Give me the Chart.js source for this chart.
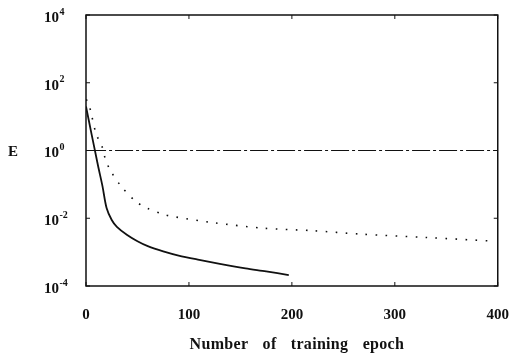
<!DOCTYPE html>
<html>
<head>
<meta charset="utf-8">
<script src="https://cdn.jsdelivr.net/npm/chart.js@4"></script>
<style>
html, body { margin: 0; background: #fff; }
#wrap { width: 521px; height: 358px; }
</style>
</head>
<body>
<div id="wrap"><canvas id="myChart"></canvas></div>
<script>
// solid curve
var solidEpoch = [0, 5, 10, 12, 16, 20, 25, 30, 40, 50, 60, 75, 90, 110, 130, 155, 175, 197];
var solidE = [20, 3.5, 0.63, 0.32, 0.089, 0.02, 0.0089, 0.0056, 0.0032, 0.0021, 0.0015, 0.00105, 0.00079, 0.00059, 0.00045, 0.00033, 0.00027, 0.00021];

// dotted curve
var dotEpoch = [0, 2, 5, 10, 15, 18, 23, 34, 48, 59, 77, 86, 124, 172, 220, 267, 331, 397];
var dotE = [32, 28, 12.6, 2.95, 1.5, 0.68, 0.28, 0.089, 0.032, 0.020, 0.0126, 0.011, 0.0074, 0.0051, 0.0043, 0.0034, 0.0027, 0.0021];

// dash-dot curve (flat)
var flatEpoch = [2, 400];
var flatE = [1, 1];

var xTicks = [0, 100, 200, 300, 400];
var yExp = [-4, -2, 0, 2, 4];

function pts(xs, ys){
    return xs.map((v, i) => ({x: v, y: ys[i]}));
}

var serif = '"Liberation Serif", "DejaVu Serif", serif';

var frame = {
    id: 'frame',
    afterDraw(chart){
        var ctx = chart.ctx;
        var a = chart.chartArea;
        var xs = chart.scales.x, ys = chart.scales.y;
        ctx.save();
        ctx.strokeStyle = '#111';
        ctx.lineWidth = 1.5;
        ctx.strokeRect(a.left, a.top, a.right - a.left, a.bottom - a.top);
        // inward ticks
        ctx.lineWidth = 1;
        ctx.beginPath();
        xTicks.forEach(v => {
            var px = xs.getPixelForValue(v);
            ctx.moveTo(px, a.bottom); ctx.lineTo(px, a.bottom - 4);
            ctx.moveTo(px, a.top); ctx.lineTo(px, a.top + 4);
        });
        yExp.forEach(e => {
            var py = ys.getPixelForValue(Math.pow(10, e));
            ctx.moveTo(a.left, py); ctx.lineTo(a.left + 4, py);
            ctx.moveTo(a.right, py); ctx.lineTo(a.right - 4, py);
        });
        ctx.stroke();

        // y labels 10^n
        ctx.fillStyle = '#111';
        ctx.textBaseline = 'middle';
        yExp.forEach(e => {
            var py = ys.getPixelForValue(Math.pow(10, e)) + 3;
            ctx.font = 'bold 15px ' + serif;
            ctx.textAlign = 'right';
            ctx.fillText('10', 59, py);
            ctx.font = 'bold 10px ' + serif;
            ctx.textAlign = 'left';
            ctx.fillText(e < 0 ? '-' + (-e) : String(e), 59.5, py - 6);
        });

        // axis titles
        ctx.font = 'bold 15px ' + serif;
        ctx.textAlign = 'center';
        ctx.fillText('E', 13, ys.getPixelForValue(1) + 2);
        ctx.font = 'bold 16px ' + serif;
        ctx.letterSpacing = '0.3px';
        ctx.wordSpacing = '10px';
        ctx.fillText('Number of training epoch', (a.left + a.right) / 2 + 5, 345);
        ctx.restore();
    }
};

new Chart('myChart', {
    type: 'line',
    data: {
        datasets: [{
            data: pts(solidEpoch, solidE),
            borderColor: '#111',
            borderWidth: 1.8,
            pointRadius: 0,
            tension: 0.3
        }, {
            data: pts(dotEpoch, dotE),
            borderColor: '#111',
            borderWidth: 1.6,
            borderDash: [1.6, 8.4],
            pointRadius: 0,
            tension: 0.3
        }, {
            data: pts(flatEpoch, flatE),
            borderColor: '#111',
            borderWidth: 1.2,
            borderDash: [18, 3, 3, 3],
            pointRadius: 0
        }]
    },
    options: {
        responsive: true,
        maintainAspectRatio: false,
        animation: false,
        layout: { padding: { top: 15, right: 14, left: 0, bottom: 0 } },
        plugins: { legend: { display: false }, tooltip: { enabled: false } },
        scales: {
            x: {
                type: 'linear',
                min: 0,
                max: 400,
                grid: { display: false },
                border: { display: false },
                afterBuildTicks: s => { s.ticks = xTicks.map(v => ({value: v})); },
                afterFit: s => { s.height = 72; },
                ticks: {
                    color: '#111',
                    padding: 12,
                    maxRotation: 0,
                    font: { family: serif, size: 15, weight: 'bold' }
                }
            },
            y: {
                type: 'logarithmic',
                min: 1e-4,
                max: 1e4,
                grid: { display: false },
                border: { display: false },
                afterBuildTicks: s => { s.ticks = yExp.map(e => ({value: Math.pow(10, e)})); },
                afterFit: s => { s.width = 86; },
                ticks: { display: false }
            }
        }
    },
    plugins: [frame]
});
</script>
</body>
</html>
